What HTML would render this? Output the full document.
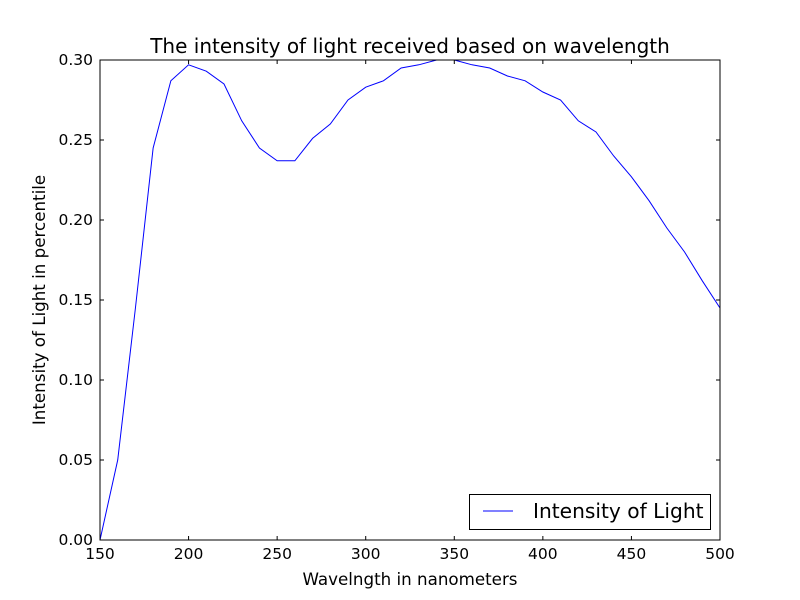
<!DOCTYPE html>
<html><head><meta charset="utf-8"><style>body{margin:0;background:#fff}svg{display:block;font-family:"DejaVu Sans","Liberation Sans",sans-serif}</style></head>
<body>
<svg id="chart" width="800" height="600">
<rect width="800" height="600" fill="#fff"/>
<g id="plot"></g>
</svg>
<script>
const wavelengths=[150,160,170,180,190,200,210,220,230,240,250,260,270,280,290,300,310,320,330,340,350,360,370,380,390,400,410,420,430,440,450,460,470,480,490,500];
const intensity=[0,0.05,0.145,0.245,0.287,0.297,0.293,0.285,0.262,0.245,0.237,0.237,0.251,0.26,0.275,0.283,0.287,0.295,0.297,0.3,0.3,0.297,0.295,0.29,0.287,0.28,0.275,0.262,0.255,0.24,0.227,0.212,0.195,0.18,0.162,0.145];
const xTicks=[150,200,250,300,350,400,450,500];
const yTicks=[0,0.05,0.10,0.15,0.20,0.25,0.30];
const L=100,R=720,T=60,B=540;
const xs=v=>L+(v-150)/(500-150)*(R-L);
const ys=v=>B-(v-0)/(0.3)*(B-T);
const NS="http://www.w3.org/2000/svg";
const g=document.getElementById('plot');
function mk(tag,attrs,parent){const e=document.createElementNS(NS,tag);for(const k in attrs)e.setAttribute(k,attrs[k]);(parent||g).appendChild(e);return e;}
let t=mk('text',{x:410,y:53,'text-anchor':'middle','font-size':'20'});t.textContent='The intensity of light received based on wavelength';


let line=mk('polyline',{points:wavelengths.map((w,i)=>xs(w)+','+ys(intensity[i])).join(' '),fill:'none',stroke:'#0000ff','stroke-width':1});


xTicks.forEach(v=>{const x=xs(v);
mk('line',{x1:x,x2:x,y1:B,y2:B-4,stroke:'#000'});mk('line',{x1:x,x2:x,y1:T,y2:T+4,stroke:'#000'});
const tx=mk('text',{x:x,y:B+19,'text-anchor':'middle','font-size':'15.5'});tx.textContent=v;

});
yTicks.forEach(v=>{const y=ys(v);
mk('line',{x1:L,x2:L+4,y1:y,y2:y,stroke:'#000'});mk('line',{x1:R,x2:R-4,y1:y,y2:y,stroke:'#000'});
const tx=mk('text',{x:L-7,y:y+5,'text-anchor':'end','font-size':'15.5'});tx.textContent=v.toFixed(2);

});
let fr=mk('rect',{x:L,y:T,width:R-L,height:B-T,fill:'none',stroke:'#000'});


let xl=mk('text',{x:410,y:585,'text-anchor':'middle','font-size':'16.7'});xl.textContent='Wavelngth in nanometers';


let yl=mk('text',{x:45,y:300,'text-anchor':'middle','font-size':'16.7',transform:'rotate(-90 45 300)'});yl.textContent='Intensity of Light in percentile';


let lg=mk('g',{});


mk('rect',{x:469.5,y:494.5,width:241,height:35,fill:'#fff',stroke:'#000'},lg);
mk('line',{x1:483,x2:513,y1:511,y2:511,stroke:'#0000ff'},lg);
let lt=mk('text',{x:533,y:518,'font-size':'20.2'},lg);lt.textContent='Intensity of Light';


</script>
</body></html>
